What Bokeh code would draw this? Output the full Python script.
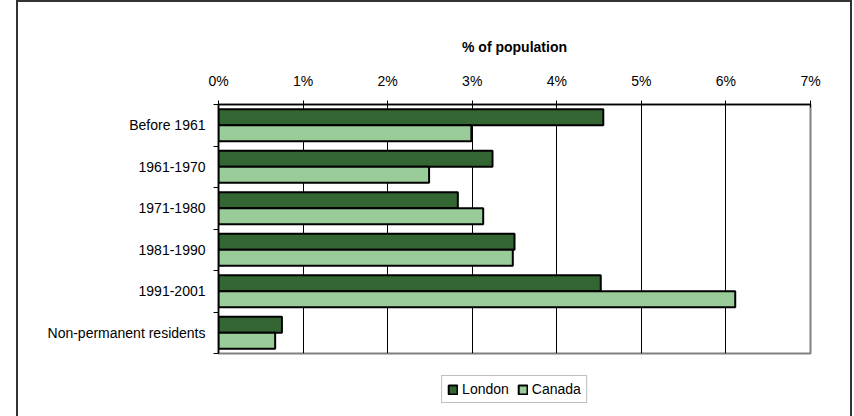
import numpy as np
from bokeh.plotting import figure
from bokeh.layouts import column
from bokeh.models import Range1d, FixedTicker, Legend, LegendItem, ColumnDataSource
from bokeh.transform import dodge
from bokeh.embed import file_html
from bokeh.resources import INLINE

# ---- data ----
categories = ["Before 1961", "1961-1970", "1971-1980", "1981-1990", "1991-2001",
              "Non-permanent residents"]
london = [4.55, 3.24, 2.83, 3.50, 4.52, 0.75]
canada = [2.99, 2.49, 3.13, 3.48, 6.11, 0.67]
series_names = ["London", "Canada"]
series_colors = ["#336633", "#99CC99"]
x_ticks = [0, 1, 2, 3, 4, 5, 6, 7]
x_tick_labels = ["0%", "1%", "2%", "3%", "4%", "5%", "6%", "7%"]
x_title = "% of population"

FONT = "Liberation Sans"
FS = "14px"

pos = [i + 0.5 for i in range(len(categories))]
src = ColumnDataSource(dict(pos=pos, london=london, canada=canada))

p = figure(width=832, height=353,
           x_range=Range1d(0, 7), y_range=Range1d(len(categories), 0),
           x_axis_location="above",
           output_backend="svg", toolbar_location=None,
           min_border_left=200, min_border_right=40,
           min_border_top=102, min_border_bottom=2)

r1 = p.hbar(y=dodge("pos", -0.1925), left=0, right="london", height=0.385,
            source=src, fill_color=series_colors[0], line_color="black", line_width=2)
r2 = p.hbar(y=dodge("pos", 0.1925), left=0, right="canada", height=0.385,
            source=src, fill_color=series_colors[1], line_color="black", line_width=2)

p.outline_line_color = "#808080"
p.outline_line_width = 2

# x axis (top)
xa = p.xaxis[0]
xa.ticker = FixedTicker(ticks=x_ticks)
xa.major_label_overrides = {t: l for t, l in zip(x_ticks, x_tick_labels)}
xa.axis_label = x_title
xa.axis_label_text_font = FONT
xa.axis_label_text_font_size = FS
xa.axis_label_text_font_style = "bold"
xa.axis_label_text_color = "black"
xa.axis_label_standoff = 15
xa.major_label_text_font = FONT
xa.major_label_text_font_size = FS
xa.major_label_text_color = "black"
xa.major_label_standoff = 12
xa.major_tick_in = 3
xa.major_tick_out = 4
xa.major_tick_line_color = "black"
xa.minor_tick_line_color = None
xa.axis_line_color = "black"
xa.axis_line_width = 1.5

# y axis (left)
ya = p.yaxis[0]
ya.ticker = FixedTicker(ticks=pos, minor_ticks=list(range(len(categories) + 1)))
ya.major_label_overrides = {t: c for t, c in zip(pos, categories)}
ya.major_label_text_font = FONT
ya.major_label_text_font_size = FS
ya.major_label_text_color = "black"
ya.major_label_standoff = 8
ya.major_tick_in = 0
ya.major_tick_out = 0
ya.minor_tick_in = 0
ya.minor_tick_out = 5
ya.minor_tick_line_color = "black"
ya.axis_line_color = "black"
ya.axis_line_width = 1.5

p.xgrid.ticker = FixedTicker(ticks=x_ticks)
p.xgrid.grid_line_color = "black"
p.xgrid.grid_line_width = 1
p.ygrid.visible = False

# legend strip below the chart (same series, hidden; only the key shows)
lg = figure(width=832, height=61, x_range=Range1d(100, 107), y_range=Range1d(100, 101),
            x_axis_location=None, y_axis_location=None,
            output_backend="svg", toolbar_location=None,
            min_border_left=200, min_border_right=40,
            min_border_top=7, min_border_bottom=0, outline_line_color=None)
lg.xgrid.visible = False
lg.ygrid.visible = False
k1 = lg.hbar(y="pos", left=0, right="london", height=0.385, source=src,
             fill_color=series_colors[0], line_color="black", line_width=2)
k2 = lg.hbar(y="pos", left=0, right="canada", height=0.385, source=src,
             fill_color=series_colors[1], line_color="black", line_width=2)
k1.visible = False
k2.visible = False
legend = Legend(items=[LegendItem(label=series_names[0], renderers=[k1]),
                       LegendItem(label=series_names[1], renderers=[k2])],
                orientation="horizontal", location="center",
                border_line_color="#808080", border_line_width=1.5,
                padding=5, spacing=8, glyph_width=11, glyph_height=11,
                label_standoff=4, label_text_font=FONT, label_text_font_size=FS,
                label_text_color="black", margin=0, click_policy="none")
lg.add_layout(legend)

layout = column(p, lg, spacing=0)
layout.styles = {"margin-left": "16px", "border": "2px solid #333", "border-bottom": "none"}

open("out.html", "w").write(file_html(layout, INLINE))
